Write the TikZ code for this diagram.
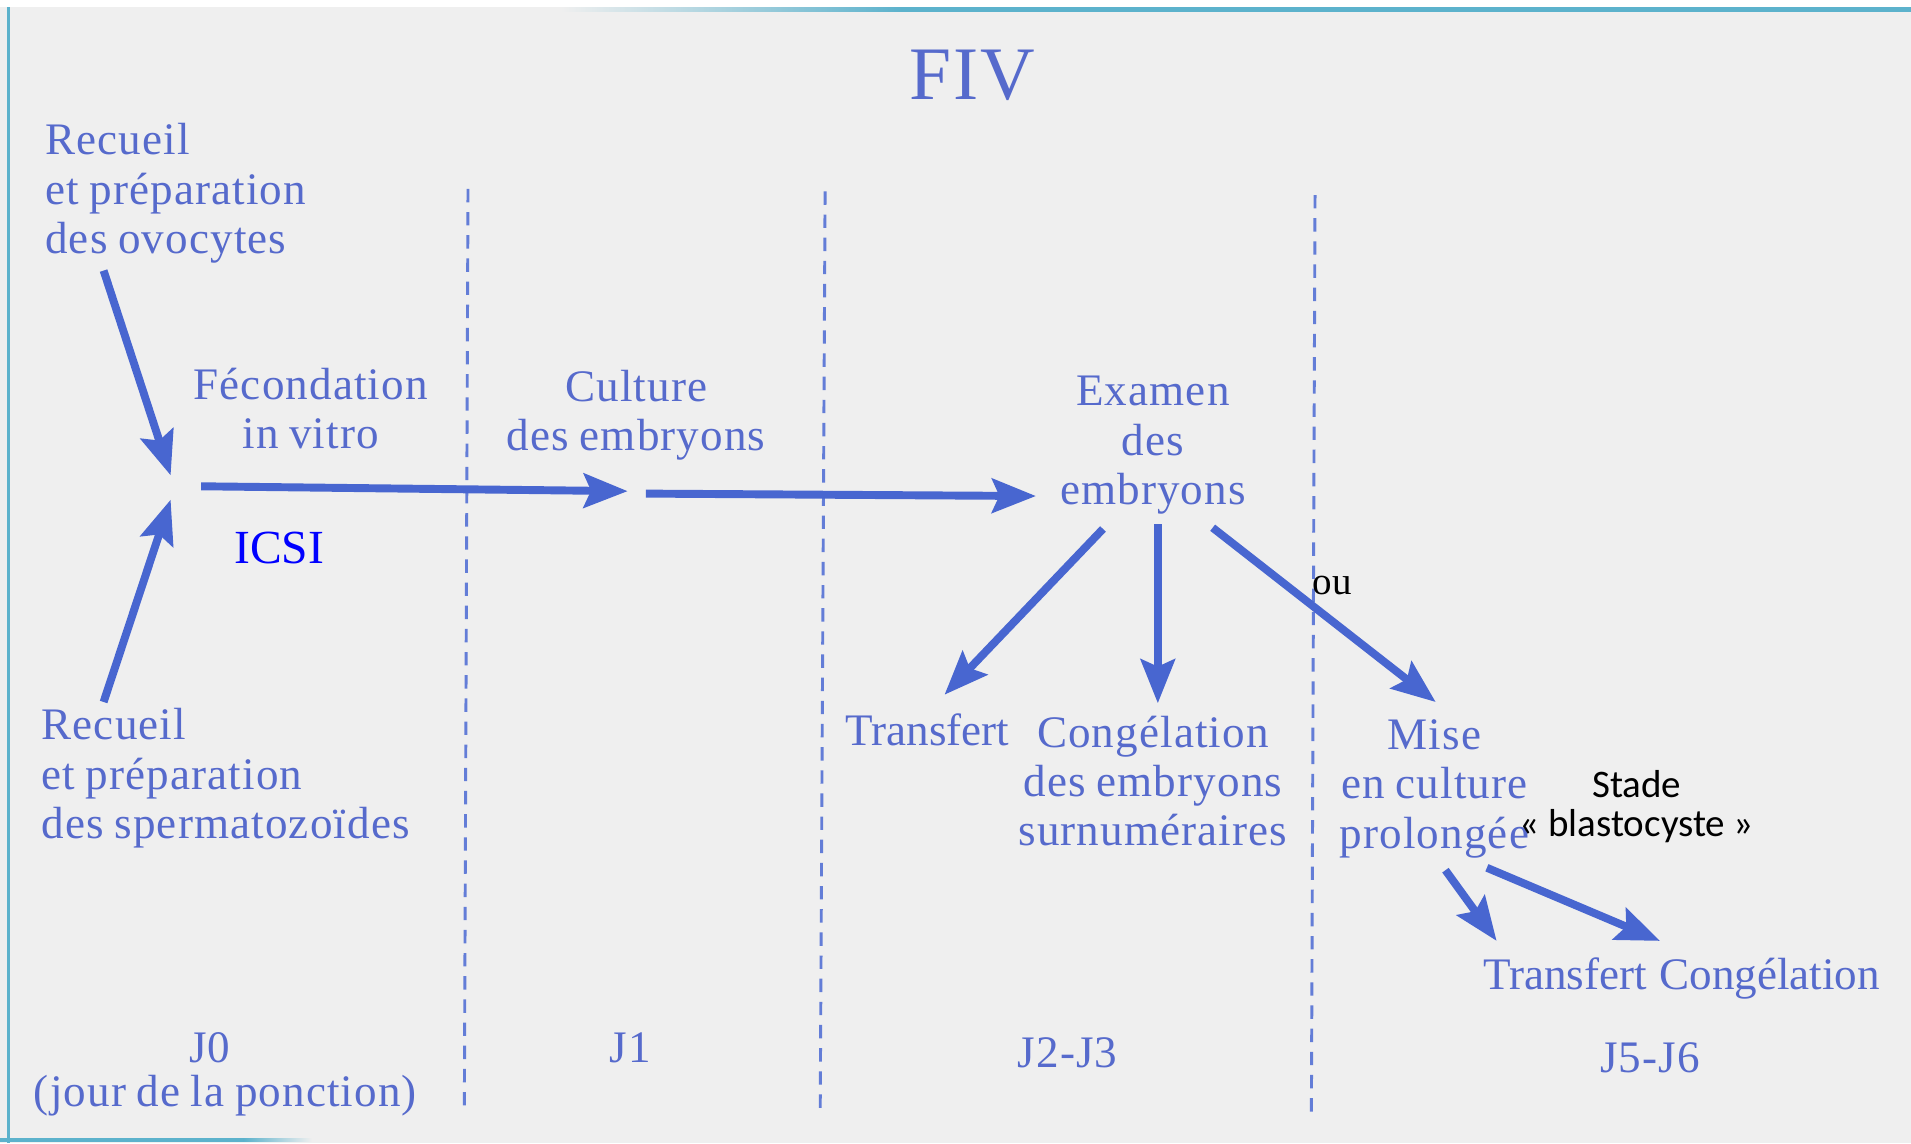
\documentclass[tikz,border=0pt]{standalone}
\usepackage{fontspec}
\setmainfont{Liberation Serif}[LetterSpace=2.5,WordSpace=0.85]
\newfontfamily\plainserif{Liberation Serif}
\newfontfamily\calib{Carlito}
\usetikzlibrary{arrows.meta}
\definecolor{bg}{RGB}{239,239,239}
\definecolor{txtblue}{RGB}{86,106,204}
\definecolor{arrblue}{RGB}{72,102,208}
\definecolor{edgecol}{RGB}{92,178,204}
\definecolor{icsiblue}{RGB}{0,0,255}
\begin{document}
\begin{tikzpicture}[x=1pt,y=-1pt,
  lbl/.style={font=\fontsize{37}{40.5}\selectfont, text=txtblue, inner sep=0pt, anchor=base},
  tight/.style={lbl, font=\plainserif\fontsize{37}{40.5}\selectfont},
  lblL/.style={lbl, align=left, anchor=base west},
  lblC/.style={lbl, align=center},
  flow/.style={draw=arrblue, line width=6.5pt, -{Stealth[length=36pt,width=28pt,inset=6pt]}},
  sep/.style={draw=arrblue!85, line width=2.4pt, dash pattern=on 11pt off 8pt},
]
\useasboundingbox (0,0) rectangle (1568,938);
\fill[white] (0,0) rectangle (1568,938);
\fill[bg] (0,6) rectangle (1568,938);
% borders
\draw[edgecol, line width=3pt] (7,6) -- (7,938);
\shade[left color=bg, right color=edgecol] (460,6) rectangle (740,9.5);
\fill[edgecol] (740,6) rectangle (1568,9.5);
\fill[edgecol] (0,934) rectangle (200,937);
\shade[left color=edgecol, right color=bg] (200,934) rectangle (256,937);

% separators
\coordinate (s1t) at (384,155); \coordinate (s1b) at (381,910);
\coordinate (s2t) at (677,157); \coordinate (s2b) at (673,910);
\coordinate (s3t) at (1079,160); \coordinate (s3b) at (1076,915);
\draw[sep] (s1t) -- (s1b);
\draw[sep] (s2t) -- (s2b);
\draw[sep] (s3t) -- (s3b);

% text (base anchor of multi-line nodes = last line)
\node[lbl, font=\fontsize{62}{62}\selectfont] (title) at (798,82) {FIV};
\node[lblL] (ovo) at (37,208) {Recueil\\et préparation\\des ovocytes};
\node[lblL] (sperm) at (34,688) {Recueil\\et préparation\\des spermatozoïdes};
\node[lblC] (fec) at (255,368) {Fécondation\\in vitro};
\node[lblC] (cult) at (522,370) {Culture\\des embryons};
\node[lblC] (exam) at (946,414) {Examen\\des\\embryons};
\node[inner sep=0pt, anchor=base, text=icsiblue, font=\plainserif\fontsize{39}{39}\selectfont] (icsi) at (229,462) {ICSI};
\node[inner sep=0pt, anchor=base, text=black, font=\plainserif\fontsize{32}{32}\selectfont] (ou) at (1093,488) {ou};
\node[tight] (transf1) at (761,612) {Transfert};
\node[lblC] (cong1) at (946,694) {Congélation\\des embryons\\surnuméraires};
\node[lblC] (mise) at (1177,696) {Mise\\en culture\\prolongée};
\node[inner sep=0pt, anchor=base, align=center, text=black, font=\calib\fontsize{32}{32}\selectfont] (stade) at (1343,686) {Stade\\« blastocyste »};
\node[tight] (transf2) at (1284,812) {Transfert};
\node[tight] (cong2) at (1452,812) {Congélation};
\node[lbl] (j0) at (172,872) {J0};
\node[lbl] (ponct) at (185,908) {(jour de la ponction)};
\node[lbl] (j1) at (517,872) {J1};
\node[lbl] (j23) at (876,876) {J2-J3};
\node[lbl] (j56) at (1354,880) {J5-J6};

% arrow end points
\coordinate (ovo-out) at (85,222);
\coordinate (junc-a) at (140,390);
\coordinate (sperm-out) at (85,576);
\coordinate (junc-b) at (140,410);
\coordinate (fec-out) at (165,399);
\coordinate (cult-in) at (515,403);
\coordinate (cult-out) at (530,405);
\coordinate (exam-in) at (850,407);
\coordinate (exam-o1) at (905,434);
\coordinate (transf1-in) at (775,570);
\coordinate (exam-o2) at (950,430);
\coordinate (cong1-in) at (950,577);
\coordinate (exam-o3) at (995,433);
\coordinate (mise-in) at (1178,576);
\coordinate (mise-o1) at (1186,714);
\coordinate (transf2-in) at (1228,772);
\coordinate (mise-o2) at (1220,712);
\coordinate (cong2-in) at (1362,772);

\draw[flow] (ovo-out) -- (junc-a);
\draw[flow] (sperm-out) -- (junc-b);
\draw[flow] (fec-out) -- (cult-in);
\draw[flow] (cult-out) -- (exam-in);
\draw[flow] (exam-o1) -- (transf1-in);
\draw[flow] (exam-o2) -- (cong1-in);
\draw[flow] (exam-o3) -- (mise-in);
\draw[flow] (mise-o1) -- (transf2-in);
\draw[flow] (mise-o2) -- (cong2-in);
\end{tikzpicture}
\end{document}
